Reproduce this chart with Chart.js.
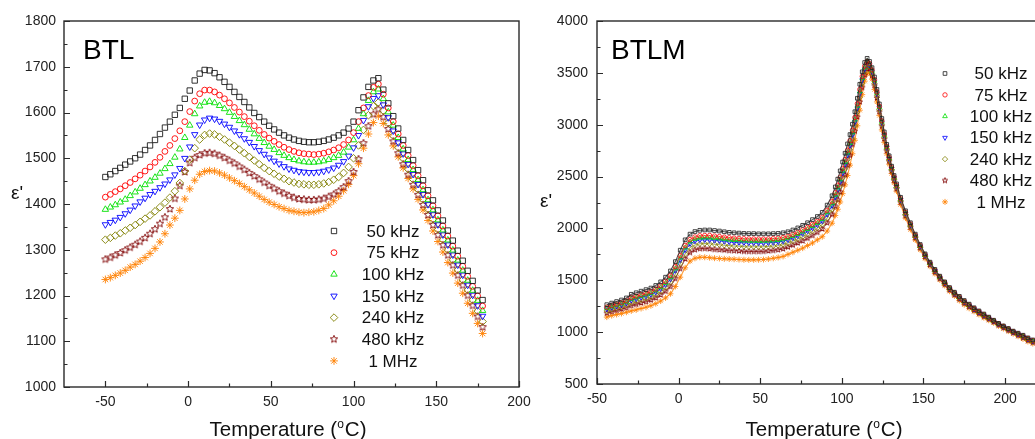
<!DOCTYPE html>
<html>
<head>
<meta charset="utf-8">
<script src="https://cdn.jsdelivr.net/npm/chart.js@4.4.1/dist/chart.umd.min.js"></script>
<style>
  html, body { margin:0; padding:0; background:#fff; overflow:hidden; }
  body { width:1035px; height:439px; position:relative; }
  canvas { position:absolute; top:0; }
  #cL { left:0; }
  #cR { left:530px; }
</style>
</head>
<body>
<canvas id="cL" width="545" height="439"></canvas>
<canvas id="cR" width="515" height="439"></canvas>
<script>
// ---------------- DATA: BTL (left panel) ----------------
const tempBTL = [-50,-47,-44,-41,-38,-35,-32,-29,-26,-23,-20,-17,-14,-11,-8,-5,-2,1,4,7,10,13,16,19,22,25,28,31,34,37,40,43,46,49,52,55,58,61,64,67,70,73,76,79,82,85,88,91,94,97,100,103,106,109,112,115,118,121,124,127,130,133,136,139,142,145,148,151,154,157,160,163,166,169,172,175,178];
const btl50k = [1459,1465,1472,1479,1486,1493,1500,1508,1518,1528,1540,1553,1567,1580,1595,1610,1630,1648,1670,1685,1693,1692,1686,1677,1667,1656,1645,1634,1623,1611,1599,1590,1580,1571,1563,1556,1550,1545,1541,1538,1536,1535,1535,1536,1538,1541,1545,1550,1556,1565,1580,1605,1633,1656,1670,1675,1650,1620,1592,1565,1540,1518,1496,1474,1452,1430,1408,1386,1364,1342,1320,1298,1276,1254,1232,1211,1190];
const btl75k = [1415,1421,1427,1433,1440,1447,1455,1463,1472,1481,1491,1502,1515,1528,1543,1560,1580,1602,1625,1641,1649,1649,1645,1638,1630,1621,1611,1601,1591,1581,1571,1561,1552,1544,1537,1530,1524,1519,1515,1512,1510,1509,1508,1509,1511,1514,1518,1523,1530,1540,1556,1580,1610,1637,1655,1662,1640,1610,1580,1553,1528,1506,1484,1462,1440,1418,1396,1374,1352,1330,1308,1286,1264,1242,1220,1199,1177];
const btl100k = [1388,1393,1398,1404,1410,1418,1426,1434,1442,1450,1458,1467,1477,1488,1502,1520,1545,1572,1597,1614,1622,1624,1621,1615,1608,1600,1591,1582,1573,1563,1553,1543,1534,1526,1519,1512,1506,1501,1497,1494,1492,1491,1491,1492,1494,1497,1501,1506,1513,1524,1540,1565,1597,1626,1645,1651,1630,1601,1572,1545,1520,1497,1475,1453,1431,1409,1387,1365,1343,1321,1299,1277,1255,1233,1211,1189,1167];
const btl150k = [1355,1360,1365,1371,1379,1387,1396,1405,1413,1421,1428,1436,1444,1453,1464,1478,1500,1525,1552,1573,1584,1588,1586,1581,1575,1568,1560,1552,1543,1535,1526,1517,1509,1501,1494,1488,1482,1477,1474,1471,1470,1469,1469,1470,1472,1475,1479,1485,1493,1505,1523,1550,1583,1613,1631,1637,1617,1589,1560,1534,1510,1487,1465,1443,1421,1399,1377,1355,1333,1311,1289,1267,1245,1223,1201,1178,1155];
const btl240k = [1322,1326,1331,1336,1342,1348,1354,1361,1368,1375,1384,1393,1403,1414,1428,1446,1472,1497,1522,1541,1551,1554,1552,1547,1541,1534,1527,1519,1511,1503,1495,1487,1479,1472,1466,1460,1455,1450,1447,1444,1443,1442,1442,1443,1445,1448,1453,1459,1468,1481,1500,1528,1562,1594,1614,1622,1604,1577,1549,1523,1499,1476,1454,1432,1410,1388,1366,1344,1322,1300,1278,1256,1234,1212,1190,1166,1143];
const btl480k = [1279,1283,1288,1293,1299,1305,1311,1318,1326,1335,1345,1357,1371,1389,1412,1440,1470,1490,1501,1507,1511,1512,1510,1506,1501,1495,1489,1482,1475,1468,1461,1454,1447,1440,1434,1428,1423,1418,1414,1411,1410,1409,1409,1410,1412,1416,1421,1428,1437,1450,1470,1498,1533,1570,1596,1607,1590,1564,1537,1511,1487,1464,1442,1420,1398,1376,1354,1332,1310,1288,1266,1244,1222,1200,1178,1154,1131];
const btl1M = [1235,1239,1244,1249,1255,1262,1268,1275,1283,1292,1303,1317,1335,1354,1369,1386,1411,1433,1452,1465,1471,1473,1472,1468,1463,1457,1451,1445,1438,1431,1424,1417,1410,1404,1399,1394,1390,1386,1384,1382,1381,1382,1383,1386,1390,1398,1407,1417,1429,1443,1462,1488,1522,1553,1578,1592,1576,1551,1527,1503,1479,1456,1433,1410,1387,1364,1341,1318,1295,1272,1249,1227,1205,1183,1161,1139,1117];

// ---------------- DATA: BTLM (right panel) ----------------
const tempBTLM = [-44,-41,-38,-35,-32,-29,-26,-23,-20,-17,-14,-11,-8,-5,-2,1,4,7,10,13,16,19,22,25,28,31,34,37,40,43,46,49,52,55,58,61,64,67,70,73,76,79,82,85,88,91,94,
  96,97.5,99,100.5,102,103.5,105,106.5,108,109.5,111,112.5,114,115.5,117,118.5,120,121.5,123,124.5,126,127.5,129,130.5,132,133.5,
  136,139,142,145,148,151,154,157,160,163,166,169,172,175,178,181,184,187,190,193,196,199,202,205,208,211,214,217];
const btlm50k = [1265,1280,1295,1310,1330,1365,1380,1395,1410,1425,1450,1485,1530,1590,1680,1790,1890,1945,1970,1982,1985,1985,1980,1975,1968,1962,1958,1955,1952,1950,1950,1948,1948,1948,1950,1952,1958,1968,1985,2005,2030,2055,2085,2115,2155,2225,2315,
  2400,2475,2555,2640,2725,2815,2905,3005,3125,3255,3390,3510,3600,3640,3610,3550,3460,3340,3200,3060,2930,2810,2700,2600,2510,2430,
  2300,2170,2055,1945,1845,1755,1675,1605,1540,1485,1430,1385,1345,1305,1270,1235,1205,1175,1145,1115,1085,1060,1035,1010,990,970,945,925];
const btlm75k = [1241,1256,1270,1284,1302,1333,1347,1362,1376,1391,1415,1448,1490,1546,1632,1738,1836,1893,1918,1930,1932,1932,1927,1922,1916,1911,1907,1904,1901,1899,1899,1898,1898,1899,1902,1906,1912,1924,1942,1962,1986,2011,2040,2070,2108,2175,2262,
  2345,2417,2495,2579,2664,2754,2846,2948,3070,3202,3340,3466,3564,3610,3589,3528,3436,3316,3178,3038,2910,2792,2684,2586,2496,2416,
  2286,2156,2042,1934,1835,1746,1667,1597,1533,1478,1423,1378,1337,1297,1262,1228,1198,1168,1139,1110,1080,1055,1030,1005,984,963,938,918];
const btlm100k = [1231,1246,1260,1274,1291,1320,1334,1348,1362,1377,1401,1433,1474,1528,1613,1717,1814,1872,1898,1909,1911,1910,1905,1901,1895,1890,1887,1884,1881,1879,1879,1878,1879,1880,1883,1887,1894,1907,1925,1945,1968,1993,2022,2052,2089,2155,2241,
  2323,2394,2471,2555,2640,2730,2822,2925,3048,3181,3320,3448,3550,3610,3581,3519,3426,3306,3169,3029,2902,2785,2678,2580,2490,2410,
  2280,2150,2037,1930,1831,1742,1664,1594,1530,1475,1420,1375,1334,1294,1259,1225,1195,1165,1137,1108,1078,1053,1028,1003,982,960,935,915];
const btlm150k = [1222,1237,1250,1263,1280,1307,1321,1335,1349,1364,1387,1418,1458,1511,1594,1696,1793,1851,1877,1888,1890,1889,1884,1880,1874,1869,1866,1863,1861,1859,1859,1858,1859,1861,1864,1868,1876,1890,1908,1928,1951,1976,2004,2034,2070,2135,2220,
  2301,2371,2447,2530,2615,2705,2799,2902,3026,3160,3300,3431,3535,3586,3572,3510,3417,3297,3160,3020,2894,2778,2671,2575,2485,2405,
  2275,2145,2032,1925,1827,1739,1661,1591,1527,1472,1417,1372,1331,1291,1256,1222,1192,1162,1134,1106,1076,1051,1026,1001,979,957,932,912];
const btlm240k = [1205,1220,1233,1245,1261,1285,1298,1312,1325,1340,1363,1393,1430,1480,1560,1660,1755,1815,1841,1852,1854,1852,1847,1843,1838,1834,1831,1828,1825,1824,1824,1823,1824,1827,1831,1836,1844,1859,1878,1898,1920,1945,1973,2003,2038,2100,2183,
  2263,2330,2405,2488,2573,2663,2758,2863,2988,3123,3265,3400,3510,3565,3558,3495,3400,3280,3145,3005,2880,2765,2660,2565,2475,2395,
  2265,2135,2023,1918,1820,1733,1655,1585,1523,1468,1413,1368,1325,1285,1250,1218,1188,1158,1130,1103,1073,1048,1023,998,975,953,928,908];
const btlm480k = [1183,1198,1210,1222,1236,1256,1268,1281,1294,1309,1331,1359,1394,1440,1517,1613,1706,1768,1795,1805,1806,1803,1798,1795,1791,1787,1785,1782,1779,1778,1778,1778,1779,1783,1788,1794,1803,1820,1839,1859,1880,1905,1932,1962,1995,2055,2135,
  2213,2278,2351,2433,2518,2608,2704,2811,2938,3075,3220,3360,3478,3538,3539,3475,3378,3258,3125,2985,2862,2749,2646,2552,2462,2382,
  2252,2122,2011,1908,1811,1724,1648,1578,1516,1461,1406,1361,1318,1278,1243,1211,1181,1151,1125,1098,1068,1043,1018,993,970,946,921,901];
const btlm1M = [1145,1160,1170,1180,1192,1205,1215,1228,1240,1255,1275,1300,1330,1370,1440,1530,1620,1685,1712,1722,1722,1718,1713,1710,1707,1705,1703,1700,1698,1697,1697,1698,1700,1705,1712,1720,1730,1750,1770,1790,1810,1835,1860,1890,1920,1975,2050,
  2125,2185,2255,2335,2420,2510,2610,2720,2850,2990,3140,3290,3420,3490,3505,3440,3340,3220,3090,2950,2830,2720,2620,2530,2440,2360,
  2230,2100,1990,1890,1795,1710,1635,1565,1505,1450,1395,1350,1305,1265,1230,1200,1170,1140,1115,1090,1060,1035,1010,985,960,935,910,890];

// ---------------- labels & ticks ----------------
const seriesLabels = ['50 kHz','75 kHz','100 kHz','150 kHz','240 kHz','480 kHz','1 MHz'];
const xTicksL = [-50,0,50,100,150,200];
const xMinorL = [-25,25,75,125,175];
const yTicksL = [1000,1100,1200,1300,1400,1500,1600,1700,1800];
const yMinorL = [1050,1150,1250,1350,1450,1550,1650,1750];
const xTicksR = [-50,0,50,100,150,200];
const xMinorR = [-25,25,75,125,175];
const yTicksR = [500,1000,1500,2000,2500,3000,3500,4000];
const yMinorR = [750,1250,1750,2250,2750,3250,3750];

// ---------------- styling ----------------
const FONT = '"Liberation Sans", Arial, Helvetica, sans-serif';
function starCanvas(color, R, lw) {
  const s = Math.ceil(2 * R + 4);
  const c = document.createElement('canvas');
  c.width = c.height = s;
  const g = c.getContext('2d');
  g.strokeStyle = color; g.lineWidth = lw;
  g.beginPath();
  for (let k = 0; k < 10; k++) {
    const r = k % 2 ? R * 0.45 : R;
    const a = -Math.PI / 2 + k * Math.PI / 5;
    const px = s / 2 + r * Math.cos(a), py = s / 2 + r * Math.sin(a);
    if (k) g.lineTo(px, py); else g.moveTo(px, py);
  }
  g.closePath(); g.stroke();
  return c;
}
const COLORS = ['#1a1a1a','#ff0000','#00e000','#0000ff','#808000','#800000','#ff8000'];
const LINECOLORS = ['rgba(40,40,40,0.8)','rgba(255,60,60,0.75)','rgba(40,220,40,0.75)','rgba(40,40,255,0.75)','rgba(140,140,40,0.75)','rgba(140,30,30,0.75)','rgba(255,140,20,0.85)'];
const STYLE = [
  {s:'rect', rot:0, rl:3.8, rr:2.6},
  {s:'circle', rot:0, rl:2.9, rr:2.2},
  {s:'triangle', rot:0, rl:3.7, rr:2.7},
  {s:'triangle', rot:180, rl:3.7, rr:2.7},
  {s:'rectRot', rot:0, rl:3.8, rr:2.7},
  {s:'starL', rot:0, rl:3.9, rr:2.8},
  {s:'star', rot:0, rl:3.9, rr:3.0}
];

function makeDatasets(xs, seriesList, big) {
  return seriesList.map((ys, i) => {
    const st = STYLE[i];
    const r = big ? st.rl : st.rr;
    let ps = st.s;
    if (ps === 'starL') ps = starCanvas(COLORS[i], r, 0.9);
    return {
      label: seriesLabels[i],
      data: xs.map((x, k) => ({x: x, y: ys[k]})),
      pointStyle: ps,
      pointRotation: st.rot,
      pointRadius: r,
      pointBorderWidth: big ? 0.9 : 0.8,
      borderColor: big ? COLORS[i] : LINECOLORS[i],
      pointBorderColor: COLORS[i],
      backgroundColor: 'rgba(0,0,0,0)',
      pointBackgroundColor: 'rgba(0,0,0,0)',
      showLine: !big,
      borderWidth: big ? 0 : 1.1,
      tension: 0
    };
  });
}

function drawTitle(ctx, cx, baseY) {
  const f = '20.5px ' + FONT, fs = '12px ' + FONT;
  ctx.font = f; const w1 = ctx.measureText('Temperature (').width; const w3 = ctx.measureText('C)').width;
  ctx.font = fs; const w2 = ctx.measureText('o').width + 1;
  let x = cx - (w1 + w2 + w3) / 2;
  ctx.textAlign = 'left'; ctx.textBaseline = 'alphabetic'; ctx.fillStyle = '#111';
  ctx.font = f; ctx.fillText('Temperature (', x, baseY); x += w1;
  ctx.font = fs; ctx.fillText('o', x, baseY - 8); x += w2;
  ctx.font = f; ctx.fillText('C)', x, baseY);
}

const framePlugin = {
  id: 'frame',
  afterDraw(chart, args, o) {
    const ctx = chart.ctx, a = chart.chartArea;
    const xs = chart.scales.x, ys = chart.scales.y;
    ctx.save();
    ctx.strokeStyle = '#2a2a2a';
    ctx.lineWidth = 1.4;
    ctx.strokeRect(a.left, a.top, a.right - a.left, a.bottom - a.top);
    ctx.lineWidth = 1.2;
    ctx.beginPath();
    const tx = (vals, len) => vals.forEach(v => { const p = Math.round(xs.getPixelForValue(v)) + 0.5; ctx.moveTo(p, a.bottom); ctx.lineTo(p, a.bottom - len); });
    const ty = (vals, len) => vals.forEach(v => { const p = Math.round(ys.getPixelForValue(v)) + 0.5; ctx.moveTo(a.left, p); ctx.lineTo(a.left + len, p); });
    tx(o.xMajor, 6); tx(o.xMinor, 3.5); ty(o.yMajor, 6); ty(o.yMinor, 3.5);
    ctx.stroke();
    // panel label
    ctx.fillStyle = '#000';
    ctx.textAlign = 'left'; ctx.textBaseline = 'alphabetic';
    ctx.font = '28px ' + FONT;
    ctx.fillText(o.label, o.labelX, o.labelY);
    // y title
    ctx.font = '19px ' + FONT;
    ctx.fillStyle = '#111';
    ctx.fillText("\u03b5'", o.epsX, o.epsY);
    // x title
    drawTitle(ctx, o.titleX, o.titleY);
    // legend
    chart.data.datasets.forEach((ds, i) => {
      const y = o.legY + i * o.legDy;
      ctx.save();
      ctx.strokeStyle = ds.pointBorderColor; ctx.fillStyle = 'rgba(0,0,0,0)';
      ctx.lineWidth = ds.pointBorderWidth;
      Chart.helpers.drawPoint(ctx, {pointStyle: ds.pointStyle, rotation: ds.pointRotation || 0, radius: ds.pointRadius, borderWidth: ds.pointBorderWidth}, o.legMx, y);
      ctx.restore();
      ctx.fillStyle = '#111'; ctx.font = '17px ' + FONT;
      ctx.textAlign = 'center'; ctx.textBaseline = 'middle';
      ctx.fillText(ds.label, o.legTx, y + 1);
    });
    ctx.restore();
  }
};

function axisOpts(min, max, ticks, fitSize, isX, pad) {
  return {
    type: 'linear', min: min, max: max,
    afterFit(s) { if (isX) s.height = fitSize; else s.width = fitSize; },
    afterBuildTicks(s) { s.ticks = ticks.map(v => ({value: v})); },
    grid: {display: false, drawTicks: false},
    border: {display: false},
    ticks: {
      font: {family: FONT, size: 14}, color: '#222', padding: pad,
      autoSkip: false, maxRotation: 0, callback: v => String(v)
    }
  };
}

// Left chart: area x 64..519, y 21..387
new Chart(document.getElementById('cL'), {
  type: 'scatter',
  data: {datasets: makeDatasets(tempBTL, [btl50k, btl75k, btl100k, btl150k, btl240k, btl480k, btl1M], true)},
  options: {
    responsive: false, animation: false, events: [],
    layout: {padding: {left: 0, right: 545 - 519, top: 21, bottom: 0}},
    plugins: {
      legend: {display: false}, tooltip: {enabled: false},
      frame: {xMajor: xTicksL, xMinor: xMinorL, yMajor: yTicksL, yMinor: yMinorL,
        label: 'BTL', labelX: 83, labelY: 59, epsX: 11, epsY: 199,
        titleX: 288, titleY: 436, legMx: 334, legTx: 393, legY: 231, legDy: 21.65}
    },
    scales: {
      x: axisOpts(-75, 200, xTicksL, 52, true, 7),
      y: axisOpts(1000, 1800, yTicksL, 64, false, 8)
    }
  },
  plugins: [framePlugin]
});

// Right chart: area x 597..1038 (abs), y 21..384 ; canvas starts at 530
new Chart(document.getElementById('cR'), {
  type: 'scatter',
  data: {datasets: makeDatasets(tempBTLM, [btlm50k, btlm75k, btlm100k, btlm150k, btlm240k, btlm480k, btlm1M], false)},
  options: {
    responsive: false, animation: false, events: [],
    layout: {padding: {left: 0, right: 515 - 507.7, top: 21, bottom: 0}},
    plugins: {
      legend: {display: false}, tooltip: {enabled: false},
      frame: {xMajor: xTicksR, xMinor: xMinorR, yMajor: yTicksR, yMinor: yMinorR,
        label: 'BTLM', labelX: 81, labelY: 59, epsX: 10, epsY: 207,
        titleX: 294, titleY: 436, legMx: 415, legTx: 471, legY: 73.5, legDy: 21.4}
    },
    scales: {
      x: axisOpts(-50, 220, xTicksR, 55, true, 7),
      y: axisOpts(500, 4000, yTicksR, 67, false, 9)
    }
  },
  plugins: [framePlugin]
});
</script>
</body>
</html>
